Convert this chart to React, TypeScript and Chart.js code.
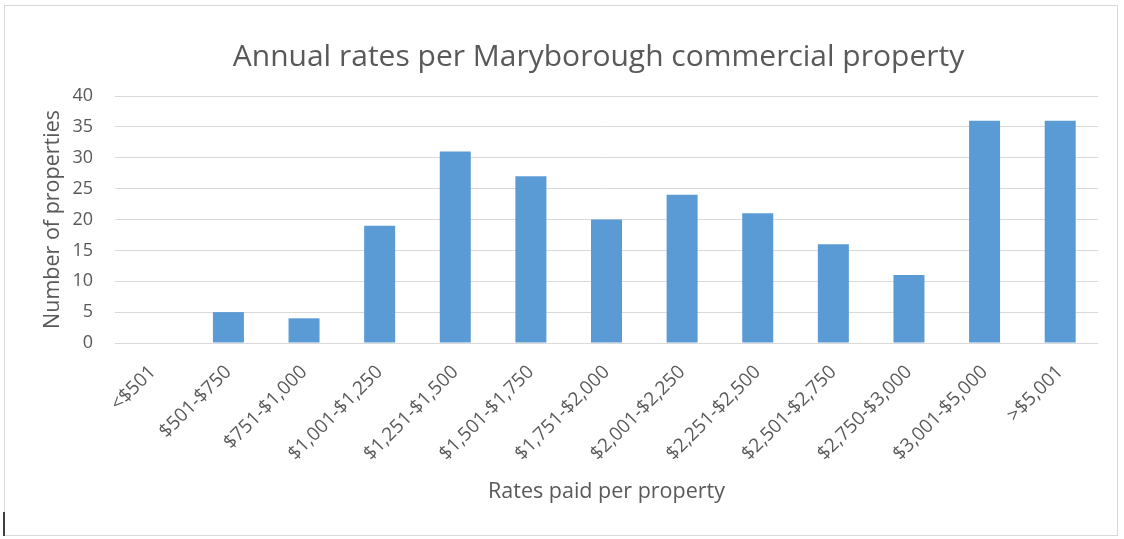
import React, { useEffect, useRef } from "react";
import { Chart, registerables } from "chart.js";

Chart.register(...registerables);

const categories = [
  "<$501",
  "$501-$750",
  "$751-$1,000",
  "$1,001-$1,250",
  "$1,251-$1,500",
  "$1,501-$1,750",
  "$1,751-$2,000",
  "$2,001-$2,250",
  "$2,251-$2,500",
  "$2,501-$2,750",
  "$2,750-$3,000",
  "$3,001-$5,000",
  ">$5,001",
];
const propertyCounts = [0, 5, 4, 19, 31, 27, 20, 24, 21, 16, 11, 36, 36];
const yTicks = [0, 5, 10, 15, 20, 25, 30, 35, 40];

const titleText = "Annual rates per Maryborough commercial property";
const xTitle = "Rates paid per property";
const yTitle = "Number of properties";

const FONT = "'Open Sans', 'Noto Sans', sans-serif";
const GREY = "#595959";

const offsetTitle = {
  id: "offsetTitle",
  afterDraw(chart: any) {
    const { ctx, chartArea } = chart;
    ctx.save();
    ctx.fillStyle = GREY;
    ctx.font = `normal 30px ${FONT}`;
    ctx.textAlign = "center";
    ctx.textBaseline = "middle";
    ctx.fillText(titleText, (chartArea.left + chartArea.right) / 2 - 8, chartArea.top - 39);
    ctx.restore();
  },
};

export default function App() {
  const ref = useRef<HTMLCanvasElement | null>(null);
  useEffect(() => {
    if (!ref.current) return;
    const chart = new Chart(ref.current, {
      type: "bar",
      data: {
        labels: categories,
        datasets: [
          {
            label: "Properties",
            data: propertyCounts,
            backgroundColor: "#5b9bd5",
            borderWidth: 0,
            barPercentage: 1,
            categoryPercentage: 0.41,
          },
        ],
      },
      plugins: [offsetTitle],
      options: {
        animation: false,
        responsive: true,
        maintainAspectRatio: false,
        layout: { padding: { left: 35, right: 19, top: 33, bottom: 30 } },
        plugins: {
          legend: { display: false },
          tooltip: { enabled: false },
          title: {
            display: true,
            text: titleText,
            color: "rgba(0,0,0,0)",
            font: { family: FONT, size: 30, weight: "normal" },
            padding: { top: 0, bottom: 21 },
          },
        },
        scales: {
          x: {
            afterFit: (axis: any) => {
              axis.height = 162;
            },
            grid: { display: false, drawTicks: false },
            border: { display: false },
            ticks: {
              color: GREY,
              font: { family: FONT, size: 19 },
              maxRotation: 45,
              minRotation: 45,
              padding: 18,
              autoSkip: false,
            },
            title: {
              display: true,
              text: xTitle,
              color: GREY,
              font: { family: FONT, size: 21.5 },
              padding: { top: 0, bottom: 0 },
            },
          },
          y: {
            min: 0,
            max: 40,
            afterBuildTicks: (axis: any) => {
              axis.ticks = yTicks.map((v) => ({ value: v }));
            },
            afterFit: (axis: any) => {
              axis.width = 75;
            },
            grid: { color: "#d9d9d9", drawTicks: false, lineWidth: 1 },
            border: { display: false },
            ticks: {
              color: GREY,
              font: { family: FONT, size: 18 },
              padding: 22,
            },
            title: {
              display: true,
              text: yTitle,
              color: GREY,
              font: { family: FONT, size: 21.5 },
              padding: { top: 0, bottom: 0 },
            },
          },
        },
      },
    });
    return () => chart.destroy();
  }, []);

  return (
    <div style={{ position: "absolute", left: 0, top: 0, width: 1124, height: 539, background: "#fff" }}>
      <div
        style={{
          position: "absolute",
          left: 4,
          top: 5,
          width: 1114,
          height: 531,
          border: "1px solid #d9d9d9",
          boxSizing: "border-box",
        }}
      >
        <canvas ref={ref} />
      </div>
      <div style={{ position: "absolute", left: 3, top: 512, width: 2, height: 24, background: "#404040" }} />
    </div>
  );
}
